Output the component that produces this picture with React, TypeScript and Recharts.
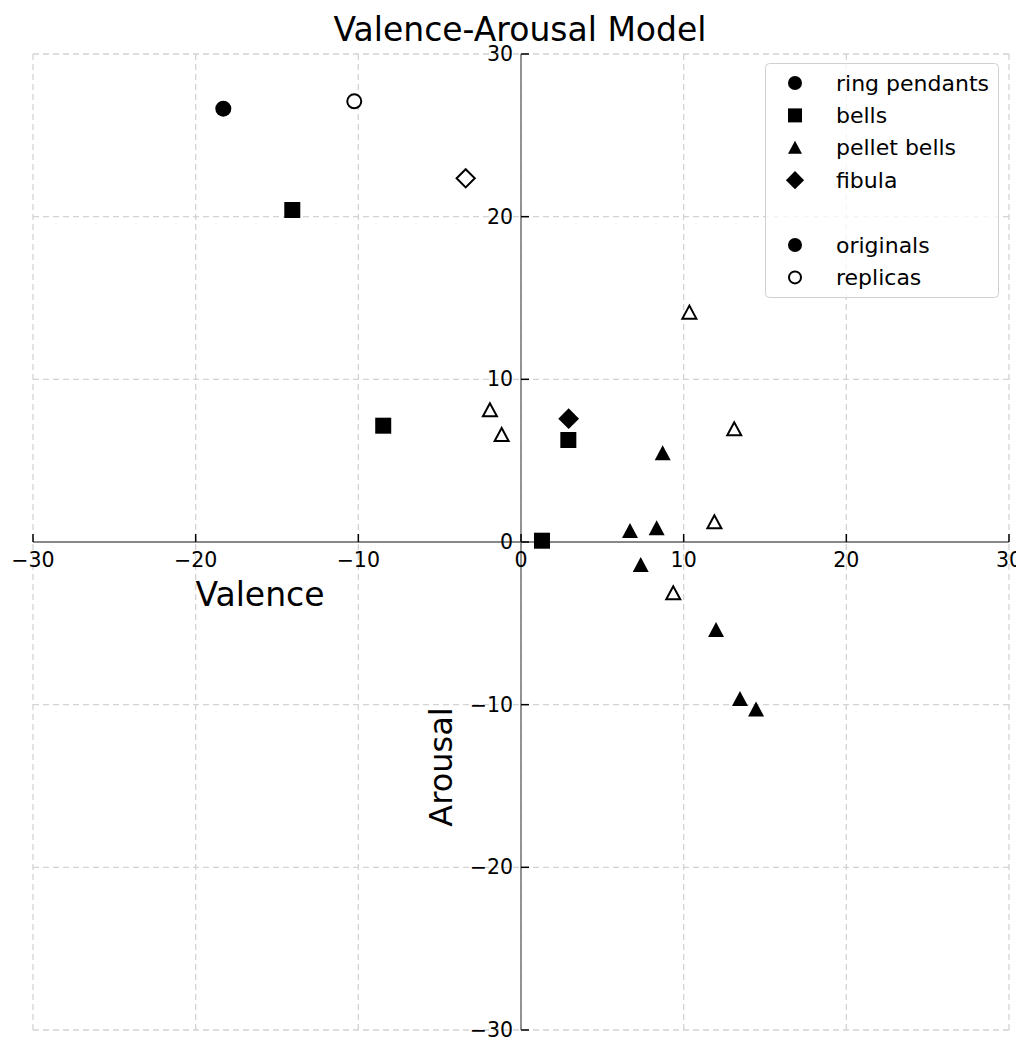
import React from 'react';
import { ScatterChart, Scatter, XAxis, YAxis, CartesianGrid, ReferenceLine, ReferenceDot } from 'recharts';

const axisTicks = [-30, -20, -10, 0, 10, 20, 30];
const tickLabels = ['\u221230', '\u221220', '\u221210', '0', '10', '20', '30'];

const ringOriginals = [{ x: -18.3, y: 26.64 }];
const ringReplicas = [{ x: -10.25, y: 27.09 }];
const bellOriginals = [
  { x: -14.06, y: 20.41 },
  { x: -8.47, y: 7.15 },
  { x: 2.91, y: 6.27 },
  { x: 1.29, y: 0.08 },
];
const pelletOriginals = [
  { x: 6.7, y: 0.68 },
  { x: 8.34, y: 0.84 },
  { x: 8.71, y: 5.45 },
  { x: 7.36, y: -1.41 },
  { x: 11.99, y: -5.41 },
  { x: 13.46, y: -9.65 },
  { x: 14.45, y: -10.29 },
];
const pelletReplicas = [
  { x: -1.91, y: 8.1 },
  { x: -1.19, y: 6.58 },
  { x: 10.35, y: 14.1 },
  { x: 13.11, y: 6.93 },
  { x: 11.89, y: 1.21 },
  { x: 9.36, y: -3.15 },
];
const fibulaOriginals = [{ x: 2.93, y: 7.58 }];
const fibulaReplicas = [{ x: -3.4, y: 22.36 }];

const legendItems = [
  { label: 'ring pendants', kind: 'circle', filled: true },
  { label: 'bells', kind: 'square', filled: true },
  { label: 'pellet bells', kind: 'triangle', filled: true },
  { label: 'fibula', kind: 'diamond', filled: true },
  { label: '', kind: 'none', filled: true },
  { label: 'originals', kind: 'circle', filled: true },
  { label: 'replicas', kind: 'circle', filled: false },
];

const FONT = '"DejaVu Sans", sans-serif';

function marker(kind: string, filled: boolean, cx: number, cy: number, s: number) {
  const fill = filled ? '#000' : '#fff';
  const sw = filled ? 0 : 2;
  const d = filled ? 0 : 1;
  const h = s / 2 - d;
  if (kind === 'circle') return <circle cx={cx} cy={cy} r={h} fill={fill} stroke="#000" strokeWidth={sw} />;
  if (kind === 'square') return <rect x={cx - h} y={cy - h} width={2 * h} height={2 * h} fill={fill} stroke="#000" strokeWidth={sw} />;
  if (kind === 'triangle')
    return (
      <polygon
        points={`${cx},${cy - h} ${cx - h},${cy + h - 1} ${cx + h},${cy + h - 1}`}
        fill={fill}
        stroke="#000"
        strokeWidth={sw}
        strokeLinejoin="miter"
      />
    );
  if (kind === 'diamond') {
    const k = h * 1.3;
    return <polygon points={`${cx},${cy - k} ${cx + k},${cy} ${cx},${cy + k} ${cx - k},${cy}`} fill={fill} stroke="#000" strokeWidth={sw} />;
  }
  return null;
}

const makeShape = (kind: string, filled: boolean) => (props: any) => marker(kind, filled, props.cx, props.cy, 16);

const XTick = (label: string) => (props: any) => (
  <g>
    <line x1={props.cx} y1={props.cy} x2={props.cx} y2={props.cy - 8} stroke="#000" strokeWidth={1.5} />
    <text x={props.cx} y={props.cy + 25} textAnchor="middle" fontSize={20.5} fontFamily={FONT} fill="#000">
      {label}
    </text>
  </g>
);

const YTick = (label: string) => (props: any) => (
  <g>
    <line x1={props.cx} y1={props.cy} x2={props.cx + 8} y2={props.cy} stroke="#000" strokeWidth={1.5} />
    <text x={props.cx - 8} y={props.cy + 7} textAnchor="end" fontSize={20.5} fontFamily={FONT} fill="#000">
      {label}
    </text>
  </g>
);

export default function App() {
  return (
    <div style={{ position: 'relative', width: 1024, height: 1039, margin: '-8px 0 0 -8px', background: '#fff' }}>
      <ScatterChart width={1024} height={1039} margin={{ top: 54, right: 15, bottom: 9, left: 33 }}>
        <CartesianGrid stroke="#d3d3d3" strokeDasharray="6 4" strokeWidth={1.3} />
        <XAxis type="number" dataKey="x" domain={[-30, 30]} ticks={axisTicks} hide />
        <YAxis type="number" dataKey="y" domain={[-30, 30]} ticks={axisTicks} hide />
        <ReferenceLine x={0} stroke="#888888" strokeWidth={1.8} />
        <ReferenceLine y={0} stroke="#888888" strokeWidth={1.8} />
        {axisTicks.map((t, i) => (
          <ReferenceDot key={'xt' + t} x={t} y={0} shape={XTick(tickLabels[i])} />
        ))}
        {axisTicks.map((t, i) => (
          <ReferenceDot key={'yt' + t} x={0} y={t} shape={YTick(tickLabels[i])} />
        ))}
        <Scatter data={ringOriginals} shape={makeShape('circle', true)} isAnimationActive={false} />
        <Scatter data={ringReplicas} shape={makeShape('circle', false)} isAnimationActive={false} />
        <Scatter data={bellOriginals} shape={makeShape('square', true)} isAnimationActive={false} />
        <Scatter data={pelletOriginals} shape={makeShape('triangle', true)} isAnimationActive={false} />
        <Scatter data={pelletReplicas} shape={makeShape('triangle', false)} isAnimationActive={false} />
        <Scatter data={fibulaOriginals} shape={makeShape('diamond', true)} isAnimationActive={false} />
        <Scatter data={fibulaReplicas} shape={makeShape('diamond', false)} isAnimationActive={false} />
      </ScatterChart>
      <svg width={1024} height={1039} style={{ position: 'absolute', left: 0, top: 0, pointerEvents: 'none' }}>
        <text x={520} y={41} textAnchor="middle" fontSize={33} fontFamily={FONT} fill="#000">
          Valence-Arousal Model
        </text>
        <text x={260} y={606} textAnchor="middle" fontSize={33} fontFamily={FONT} fill="#000">
          Valence
        </text>
        <text x={452} y={767} textAnchor="middle" fontSize={32} fontFamily={FONT} fill="#000" transform="rotate(-90 452 767)">
          Arousal
        </text>
        <rect x={765.5} y={63.5} width={233} height={234} rx={4} fill="rgba(255,255,255,0.8)" stroke="#d0d0d0" strokeWidth={1} />
        {legendItems.map((it, i) => (
          <g key={i}>
            {marker(it.kind, it.filled, 795, 83 + i * 32.4, 14)}
            <text x={836} y={83 + i * 32.4 + 7.5} fontSize={22} fontFamily={FONT} fill="#000">
              {it.label}
            </text>
          </g>
        ))}
      </svg>
    </div>
  );
}
